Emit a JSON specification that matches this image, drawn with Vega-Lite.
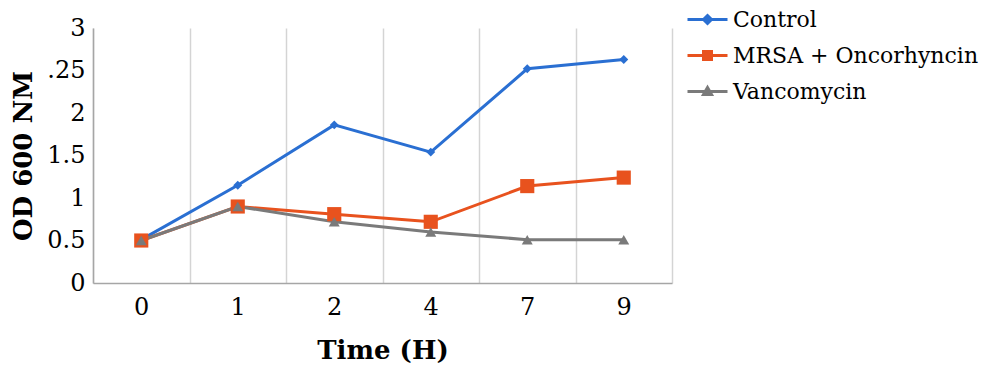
{
  "$schema": "https://vega.github.io/schema/vega-lite/v6.json",
  "width": 579,
  "height": 255,
  "autosize": "none",
  "padding": {"left": 93, "top": 28, "right": 328, "bottom": 103},
  "background": "white",
  "config": {"view": {"stroke": null}, "font": "DejaVu Serif", "legend": {"labelFont": "DejaVu Serif"}},
  "data": {"values": [
    {"t": "0", "s": "Control", "v": 0.51},
    {"t": "1", "s": "Control", "v": 1.15},
    {"t": "2", "s": "Control", "v": 1.86},
    {"t": "4", "s": "Control", "v": 1.54},
    {"t": "7", "s": "Control", "v": 2.52},
    {"t": "9", "s": "Control", "v": 2.63},
    {"t": "0", "s": "MRSA + Oncorhyncin", "v": 0.5},
    {"t": "1", "s": "MRSA + Oncorhyncin", "v": 0.9},
    {"t": "2", "s": "MRSA + Oncorhyncin", "v": 0.81},
    {"t": "4", "s": "MRSA + Oncorhyncin", "v": 0.72},
    {"t": "7", "s": "MRSA + Oncorhyncin", "v": 1.14},
    {"t": "9", "s": "MRSA + Oncorhyncin", "v": 1.24},
    {"t": "0", "s": "Vancomycin", "v": 0.5},
    {"t": "1", "s": "Vancomycin", "v": 0.9},
    {"t": "2", "s": "Vancomycin", "v": 0.72},
    {"t": "4", "s": "Vancomycin", "v": 0.6},
    {"t": "7", "s": "Vancomycin", "v": 0.51},
    {"t": "9", "s": "Vancomycin", "v": 0.51}
  ]},
  "encoding": {
    "x": {
      "field": "t", "type": "ordinal", "sort": ["0","1","2","4","7","9"],
      "bandPosition": 0.5,
      "scale": {"type": "band", "paddingInner": 0, "paddingOuter": 0},
      "axis": {
        "title": "Time (H)", "titleFont": "DejaVu Serif", "titleFontSize": 26, "titleFontWeight": "bold",
        "titleColor": "#000", "titlePadding": 18,
        "labelAngle": 0, "labelFontSize": 24, "labelColor": "#000", "labelPadding": 12,
        "ticks": false, "tickBand": "extent", "grid": true, "gridColor": "#d4d4d4", "gridWidth": 1.5,
        "domainColor": "#a6a6a6", "domainWidth": 1.5
      }
    },
    "y": {
      "field": "v", "type": "quantitative",
      "scale": {"domain": [0, 3], "nice": false},
      "axis": {
        "title": "OD 600 NM", "titleFont": "DejaVu Serif", "titleFontSize": 26, "titleFontWeight": "bold",
        "titleColor": "#000", "titlePadding": 10,
        "values": [0, 0.5, 1, 1.5, 2, 2.5, 3],
        "labelExpr": "datum.value == 2.5 ? '.25' : toString(datum.value)",
        "labelFontSize": 24, "labelColor": "#000", "labelPadding": 8,
        "ticks": false, "grid": false, "domainColor": "#a6a6a6", "domainWidth": 1.5
      }
    },
    "color": {
      "field": "s", "type": "nominal",
      "scale": {"domain": ["Control", "MRSA + Oncorhyncin", "Vancomycin"], "range": ["#2a6fd2", "#e8521e", "#7a7a7a"]},
      "legend": {
        "title": null, "orient": "none", "legendX": 593, "legendY": -30,
        "symbolSize": 1600, "symbolStrokeWidth": 3, "symbolType": "M-1,0L1,0",
        "labelFontSize": 22, "labelColor": "#000", "labelFont": "DejaVu Serif", "labelLimit": 320,
        "rowPadding": 3, "labelOffset": 4,
        "encode": {
          "labels": {
            "update": {
              "font": {"value": "DejaVu Serif"},
              "fontSize": {"value": 22},
              "fill": {"value": "#000"}
            }
          },
          "symbols": {
            "update": {
              "shape": {"signal": "datum.value == 'Control' ? 'M-1,0L1,0M0,-0.2L0.2,0L0,0.2L-0.2,0Z' : datum.value == 'Vancomycin' ? 'M-1,0L1,0M0,-0.2L0.2,0.15L-0.2,0.15Z' : 'M-1,0L1,0M-0.2,-0.2L0.2,-0.2L0.2,0.2L-0.2,0.2Z'"},
              "fill": {"scale": "color", "field": "value"},
              "stroke": {"scale": "color", "field": "value"},
              "strokeWidth": {"value": 3},
              "size": {"value": 1600},
              "opacity": {"value": 1}
            }
          }
        }
      }
    }
  },
  "layer": [
    {"mark": {"type": "line", "strokeWidth": 3}},
    {
      "transform": [{"filter": "datum.s == 'Control'"}],
      "mark": {"type": "point", "filled": true, "opacity": 1, "shape": "diamond", "size": 80}
    },
    {
      "transform": [{"filter": "datum.s == 'MRSA + Oncorhyncin'"}],
      "mark": {"type": "point", "filled": true, "opacity": 1, "shape": "square", "size": 200}
    },
    {
      "transform": [{"filter": "datum.s == 'Vancomycin'"}],
      "mark": {"type": "point", "filled": true, "opacity": 1, "shape": "triangle-up", "size": 120}
    }
  ]
}
